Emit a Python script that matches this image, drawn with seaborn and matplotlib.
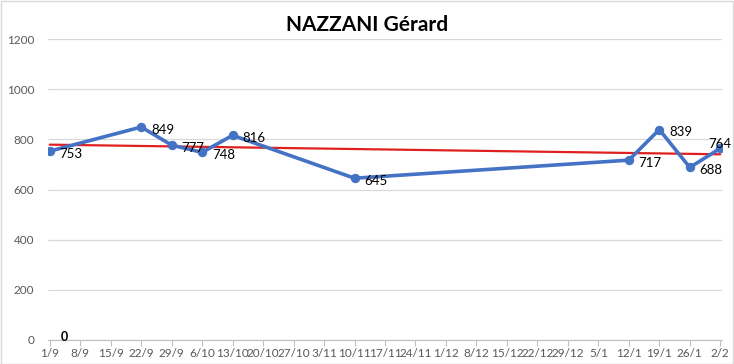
import matplotlib
matplotlib.use("Agg")
import matplotlib.pyplot as plt
import matplotlib.dates as mdates
import seaborn as sns
import pandas as pd
import numpy as np

# Data
dates = ["2019-09-01", "2019-09-22", "2019-09-29", "2019-10-06", "2019-10-13",
         "2019-11-10", "2020-01-12", "2020-01-19", "2020-01-26", "2020-02-02"]
values = [753, 849, 777, 748, 816, 645, 717, 839, 688, 764]
zero_label_date = "2019-09-01"
zero_label_value = 0
title = "NAZZANI Gérard"
tick_start = "2019-09-01"
tick_end = "2020-02-02"

df = pd.DataFrame({"date": pd.to_datetime(dates), "value": values})

sns.set_style("white")
plt.rcParams["font.family"] = ["Lato", "DejaVu Sans"]

fig = plt.figure(figsize=(7.34, 3.64), dpi=100)
ax = fig.add_axes([48/734, 24/364, 674/734, 301/364])

sns.lineplot(data=df, x="date", y="value", ax=ax, color="#4472C4", linewidth=2.6,
             marker="o", markersize=6, markeredgecolor="#4472C4", zorder=3)

# linear trendline
xnum = mdates.date2num(df["date"])
coef = np.polyfit(xnum, df["value"], 1)
xt = np.array([xnum.min(), xnum.max()])
ax.plot(xt, np.polyval(coef, xt), color="#E02020", linewidth=1.6, zorder=2)

# data labels
n = len(values)
for i, (d, v) in enumerate(zip(df["date"], df["value"])):
    off = (7, -2) if i < n - 1 else (-9, 3)
    ax.annotate(str(v), (mdates.date2num(d), v), xytext=off, textcoords="offset points",
                ha="left", va="center", fontsize=9.5, color="black", zorder=4)
ax.annotate(str(zero_label_value), (mdates.date2num(pd.Timestamp(zero_label_date)), zero_label_value),
            xytext=(8, 2), textcoords="offset points", ha="left", va="center",
            fontsize=9, fontweight="bold", color="black")

ticks = pd.date_range(tick_start, tick_end, freq="7D")
ax.set_xticks(mdates.date2num(ticks))
ax.set_xticklabels([f"{t.day}/{t.month}" for t in ticks])
ax.set_xlim(mdates.date2num(pd.Timestamp(tick_start)) - 0.4,
            mdates.date2num(pd.Timestamp(tick_end)) + 0.4)
ax.set_ylim(0, 1200)
ax.set_yticks(range(0, 1201, 200))
ax.yaxis.grid(True, color="#D9D9D9", linewidth=0.9)
ax.set_axisbelow(True)
for s in ["top", "right", "left"]:
    ax.spines[s].set_visible(False)
ax.spines["bottom"].set_color("#BFBFBF")
ax.tick_params(axis="x", length=4, color="#BFBFBF", labelsize=8.5, labelcolor="#595959", pad=2, bottom=True)
ax.tick_params(axis="y", length=0, labelsize=8.5, labelcolor="#595959", pad=10)
ax.set_xlabel("")
ax.set_ylabel("")

fig.text(0.5, 0.93, title, ha="center", va="center", fontsize=15, fontweight="bold", color="black")

# chart border
fig.patches.append(plt.Rectangle((0.001, 0.001), 0.997, 0.996, transform=fig.transFigure,
                                 fill=False, edgecolor="#D9D9D9", linewidth=1))

fig.savefig("out.png", dpi=100)
